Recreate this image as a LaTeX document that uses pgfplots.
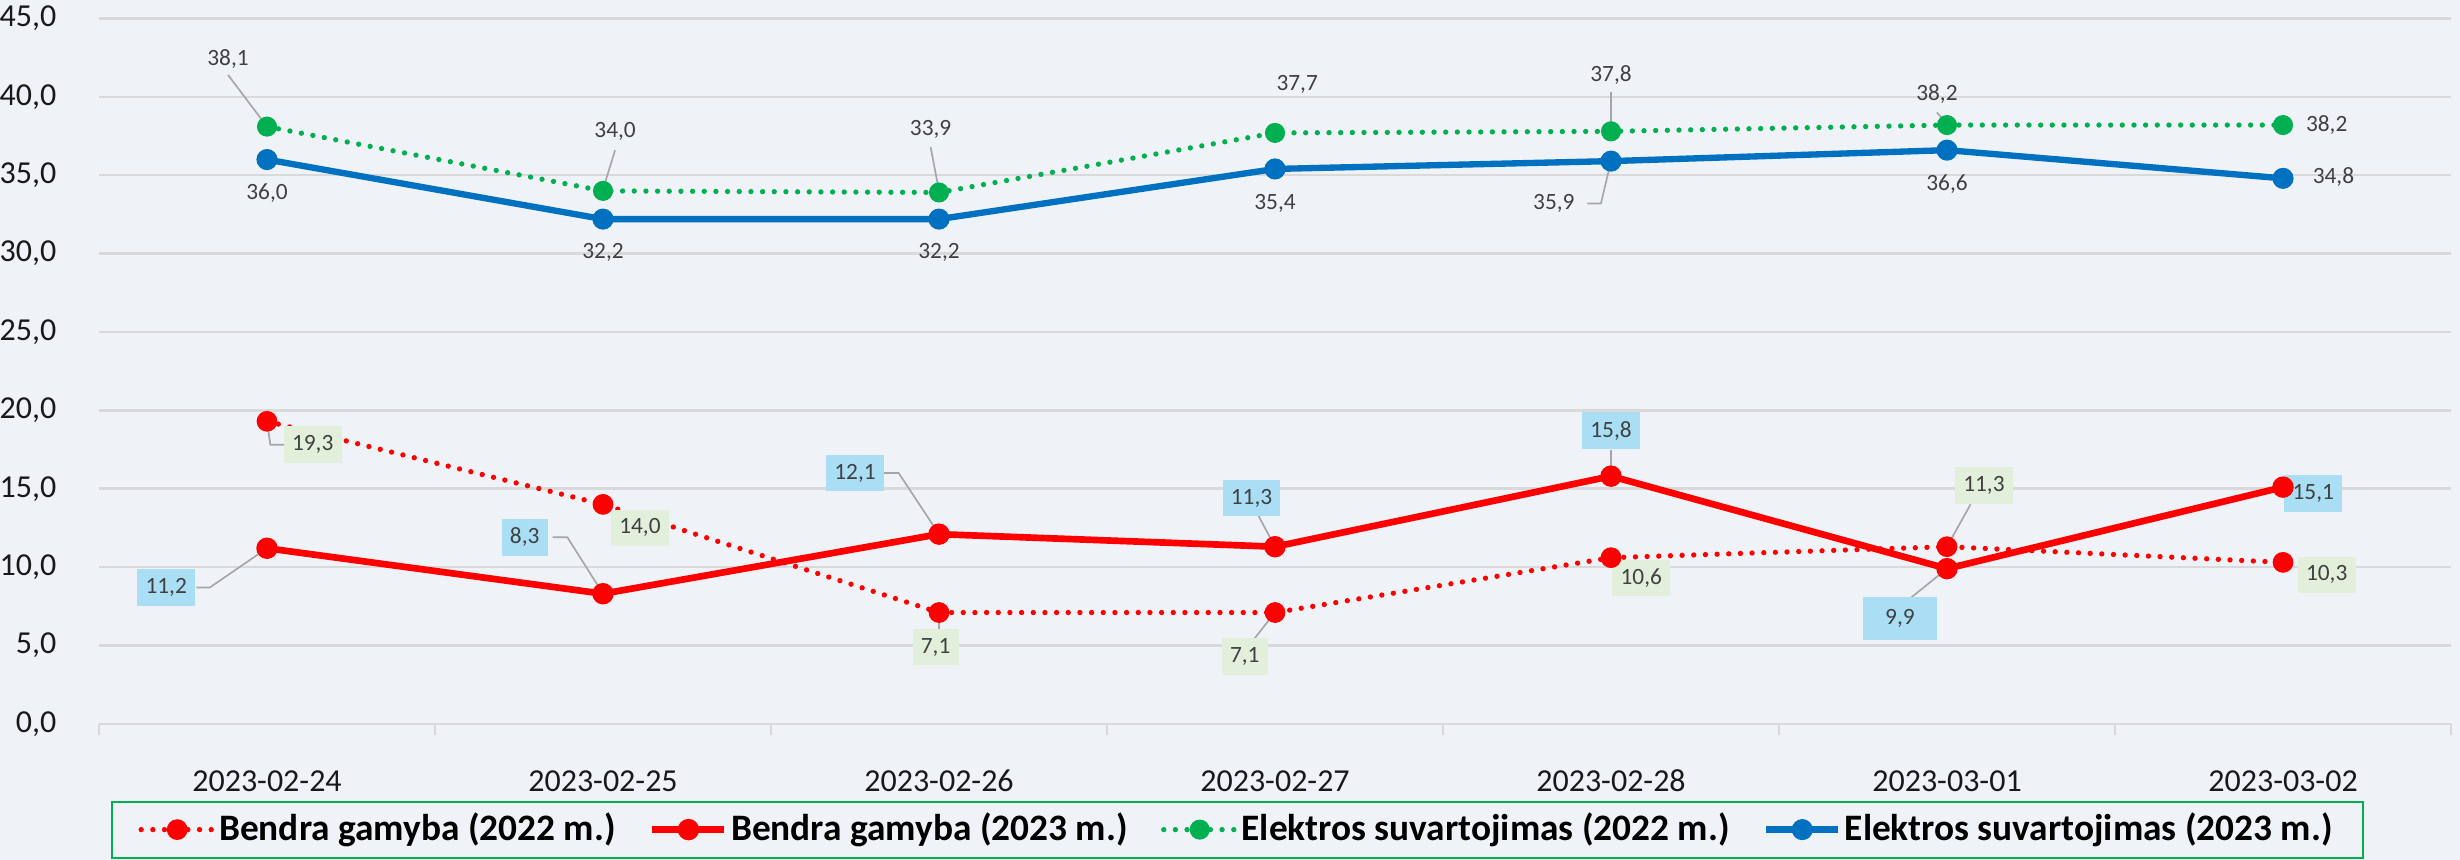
\documentclass[border=0pt]{standalone}
\usepackage{fontspec}
\setmainfont{Carlito}
\usepackage{pgfplots}
\pgfplotsset{compat=1.18}
\usetikzlibrary{backgrounds}
\definecolor{bg}{HTML}{EFF3F7}
\definecolor{gridc}{HTML}{D9D9D9}
\definecolor{cred}{HTML}{FF0000}
\definecolor{cgreen}{HTML}{00B050}
\definecolor{cblue}{HTML}{0070C0}
\definecolor{lblg}{HTML}{E2EFDA}
\definecolor{lblb}{HTML}{A9DEF5}
\definecolor{txt}{HTML}{404040}
\definecolor{leader}{HTML}{A6A6A6}
\begin{document}
\begin{tikzpicture}[
 lbl/.style={font=\fontsize{7}{8}\selectfont, text=txt, inner sep=1pt},
 lg/.style={lbl, fill=lblg, inner xsep=2.5pt, minimum height=11pt},
 lb/.style={lbl, fill=lblb, inner xsep=2.5pt, minimum height=11pt},
 ld/.style={draw=leader, line width=0.5pt}]
\begin{axis}[
 name=ax,
 width=705.6pt, height=211.6pt, scale only axis,
 xmin=-0.5, xmax=6.5, ymin=0, ymax=45,
 xtick={0,...,6},
 xticklabels={2023-02-24,2023-02-25,2023-02-26,2023-02-27,2023-02-28,2023-03-01,2023-03-02},
 minor xtick={-0.5,0.5,...,6.5},
 major x tick style={draw=none},
 minor x tick style={draw=gridc, line width=0.75pt},
 minor tick length=3.5pt,
 tick align=outside,
 ytick={0,5,...,45},
 ymajorgrids, grid style={draw=gridc, line width=0.75pt},
 separate axis lines,
 axis x line*=bottom, x axis line style={draw=gridc, line width=0.75pt, -},
 axis y line*=left, y axis line style={draw=none},
 ytick style={draw=none},
 /pgf/number format/assume math mode=true,
 ticklabel style={font=\fontsize{9.6}{11}\selectfont, text=black!90},
 yticklabel style={/pgf/number format/fixed, /pgf/number format/fixed zerofill, /pgf/number format/precision=1, /pgf/number format/use comma, xshift=-5pt},
 xticklabel style={anchor=base, yshift=-16pt},
 legend columns=4,
 legend cell align=left,
 legend style={at={(0.484,-0.15)}, anchor=center, draw=cgreen, line width=0.6pt, fill=bg,
   font=\bfseries\fontsize{11.2}{13}\selectfont, inner xsep=8pt, inner ysep=2pt,
   nodes={inner xsep=1pt, inner ysep=1.5pt},
   /tikz/every even column/.append style={column sep=9pt}},
 legend image code/.code={\draw[mark repeat=2,mark phase=2] plot coordinates {(0pt,0pt)(10.8pt,0pt)(21.6pt,0pt)};},
 clip=false,
]
\addplot[cred, line width=1.6pt, dash pattern=on 0pt off 3.5pt, line cap=round, mark=*, mark size=2.3pt, mark options={solid, fill=cred}]
 coordinates {(0,19.3)(1,14.0)(2,7.1)(3,7.1)(4,10.6)(5,11.3)(6,10.3)};
\addlegendentry{Bendra gamyba (2022 m.)}
\addplot[cred, line width=2pt, mark=*, mark size=2.2pt, mark options={solid, fill=cred}]
 coordinates {(0,11.2)(1,8.3)(2,12.1)(3,11.3)(4,15.8)(5,9.9)(6,15.1)};
\addlegendentry{Bendra gamyba (2023 m.)}
\addplot[cgreen, line width=1.6pt, dash pattern=on 0pt off 3.5pt, line cap=round, mark=*, mark size=2.2pt, mark options={solid, fill=cgreen}]
 coordinates {(0,38.1)(1,34.0)(2,33.9)(3,37.7)(4,37.8)(5,38.2)(6,38.2)};
\addlegendentry{Elektros suvartojimas (2022 m.)}
\addplot[cblue, line width=1.9pt, mark=*, mark size=2.2pt, mark options={solid, fill=cblue}]
 coordinates {(0,36.0)(1,32.2)(2,32.2)(3,35.4)(4,35.9)(5,36.6)(6,34.8)};
\addlegendentry{Elektros suvartojimas (2023 m.)}
% leader lines
\draw[ld] (axis cs:-0.116,41.4)--(axis cs:0,38.1);
\draw[ld] (axis cs:1.036,36.6)--(axis cs:1,34.1);
\draw[ld] (axis cs:1.975,36.8)--(axis cs:2,34.0);
\draw[ld] (axis cs:4,40.3)--(axis cs:4,38.1);
\draw[ld] (axis cs:4.97,39.0)--(axis cs:5,38.3);
\draw[ld] (axis cs:3.93,33.2)--(axis cs:3.97,33.2)--(axis cs:4,35.9);
\draw[ld] (axis cs:0,19.3)--(axis cs:0.01,17.8)--(axis cs:0.06,17.8);
\draw[ld] (axis cs:2,5.8)--(axis cs:2,7.1);
\draw[ld] (axis cs:2.93,5.2)--(axis cs:3,7.1);
\draw[ld] (axis cs:5.07,14.0)--(axis cs:5,11.3);
\draw[ld] (axis cs:-0.21,8.7)--(axis cs:-0.17,8.7)--(axis cs:0,11.2);
\draw[ld] (axis cs:0.85,11.9)--(axis cs:0.894,11.9)--(axis cs:1,8.3);
\draw[ld] (axis cs:1.83,16.0)--(axis cs:1.88,16.0)--(axis cs:2,12.1);
\draw[ld] (axis cs:2.95,13.3)--(axis cs:3,11.3);
\draw[ld] (axis cs:4,17.5)--(axis cs:4,15.8);
\draw[ld] (axis cs:4.89,8.0)--(axis cs:5,9.9);
% green 2022 labels
\node[lbl] at (axis cs:-0.116,42.4) {38,1};
\node[lbl] at (axis cs:1.036,37.8) {34,0};
\node[lbl] at (axis cs:1.975,37.9) {33,9};
\node[lbl] at (axis cs:3.066,40.8) {37,7};
\node[lbl] at (axis cs:4,41.4) {37,8};
\node[lbl] at (axis cs:4.97,40.2) {38,2};
\node[lbl] at (axis cs:6.13,38.2) {38,2};
% blue 2023 labels
\node[lbl] at (axis cs:0,33.85) {36,0};
\node[lbl] at (axis cs:1,30.05) {32,2};
\node[lbl] at (axis cs:2,30.05) {32,2};
\node[lbl] at (axis cs:3,33.2) {35,4};
\node[lbl] at (axis cs:3.83,33.2) {35,9};
\node[lbl] at (axis cs:5,34.45) {36,6};
\node[lbl] at (axis cs:6.15,34.9) {34,8};
% red dotted 2022 labels
\node[lg] at (axis cs:0.136,17.8) {19,3};
\node[lg] at (axis cs:1.11,12.5) {14,0};
\node[lg] at (axis cs:1.99,4.9) {7,1};
\node[lg] at (axis cs:2.91,4.3) {7,1};
\node[lg] at (axis cs:4.09,9.3) {10,6};
\node[lg] at (axis cs:5.11,15.2) {11,3};
\node[lg] at (axis cs:6.13,9.5) {10,3};
% red solid 2023 labels
\node[lb] at (axis cs:-0.3,8.7) {11,2};
\node[lb] at (axis cs:0.767,11.9) {8,3};
\node[lb] at (axis cs:1.75,16.0) {12,1};
\node[lb] at (axis cs:2.93,14.4) {11,3};
\node[lb] at (axis cs:4,18.7) {15,8};
\node[lb, minimum width=22pt, minimum height=13pt] at (axis cs:4.86,6.7) {9,9};
\node[lb] at (axis cs:6.09,14.7) {15,1};
\end{axis}
\begin{scope}[on background layer]
\fill[bg] ([shift={(-29.7pt,-40.8pt)}]ax.south west) rectangle ([shift={(2.7pt,5.55pt)}]ax.north east);
\end{scope}
\pgfresetboundingbox
\path[use as bounding box] ([shift={(-29.7pt,-40.8pt)}]ax.south west) rectangle ([shift={(2.7pt,5.55pt)}]ax.north east);
\end{tikzpicture}
\end{document}
